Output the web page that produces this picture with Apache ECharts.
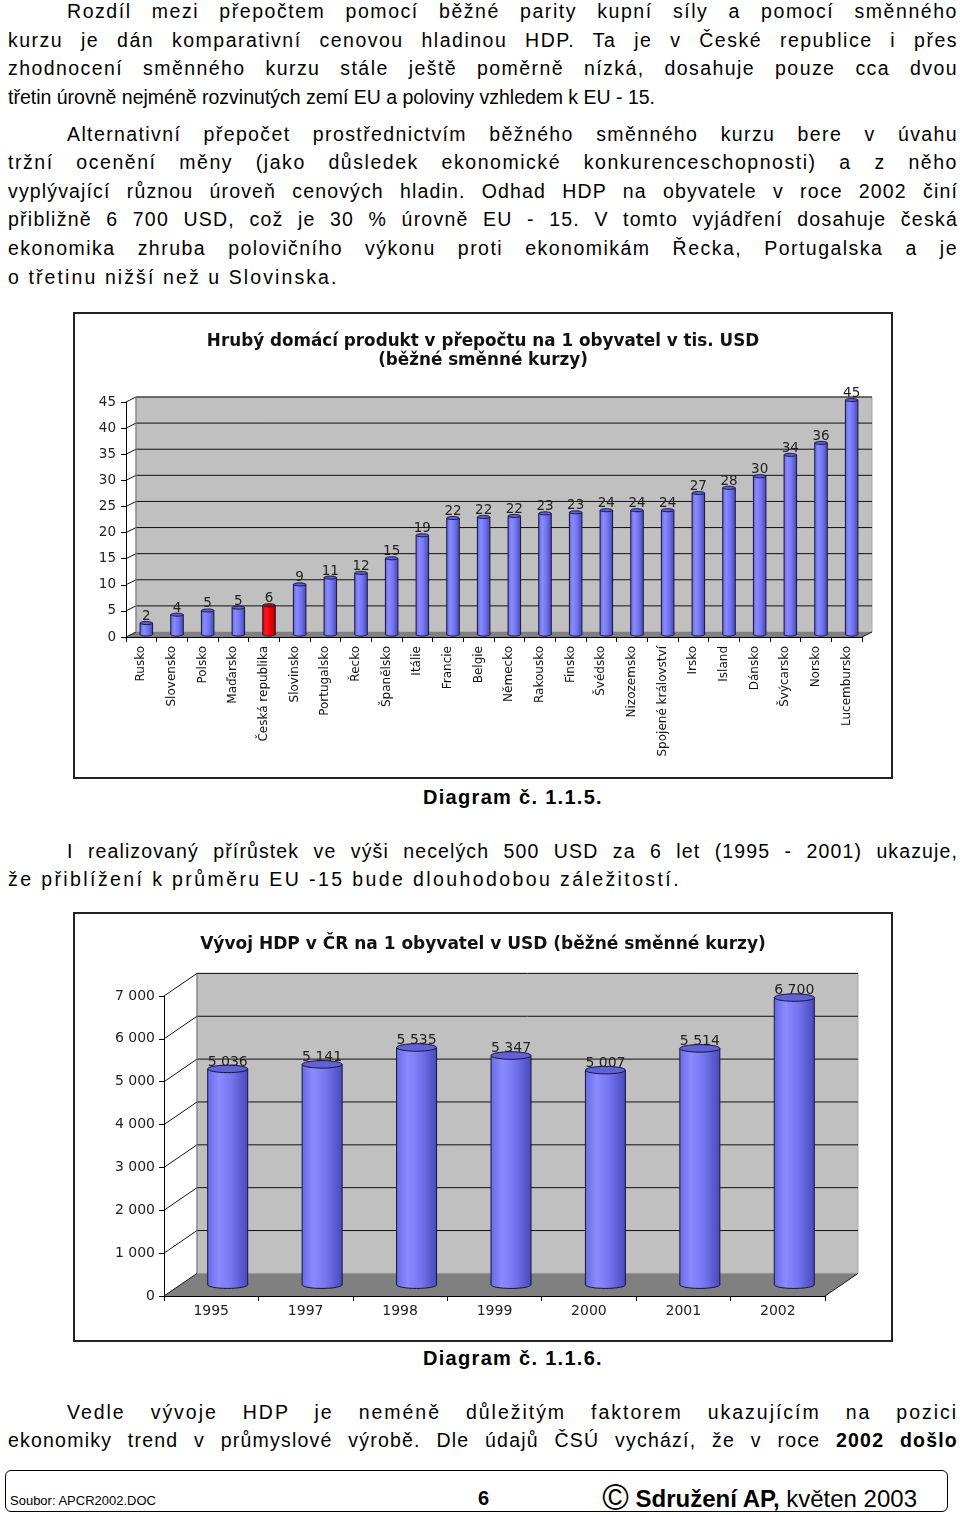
<!DOCTYPE html>
<html><head><meta charset="utf-8">
<script src="https://cdn.jsdelivr.net/npm/echarts@6/dist/echarts.min.js"></script>
<style>
html,body{margin:0;padding:0;background:#fff;}
body{width:960px;height:1515px;position:relative;overflow:hidden;font-family:"Liberation Sans",Arial,sans-serif;color:#000;}
.t{position:absolute;left:8px;width:950px;font-size:19.5px;line-height:1;white-space:nowrap;}
.j{text-align:justify;text-align-last:justify;white-space:normal;}
.i{text-indent:59px;}
.cap{position:absolute;left:313px;width:400px;text-align:center;font-weight:bold;font-size:20px;letter-spacing:1.3px;line-height:1;white-space:nowrap;}
.box{position:absolute;box-sizing:border-box;border:2px solid #222;pointer-events:none;}
.chart{position:absolute;}
.foot{position:absolute;left:5px;top:1470px;width:943px;height:42px;box-sizing:border-box;border:1.5px solid #000;border-radius:6px;}
.ft{position:absolute;line-height:1;white-space:nowrap;}
</style>
</head>
<body>
<div class="t j i" style="top:2px">Rozdíl mezi přepočtem pomocí běžné parity kupní síly a pomocí směnného</div>
<div class="t j" style="top:30.5px">kurzu je dán komparativní cenovou hladinou HDP. Ta je v České republice i přes</div>
<div class="t j" style="top:59px">zhodnocení směnného kurzu stále ještě poměrně nízká, dosahuje pouze cca dvou</div>
<div class="t" style="top:87.5px">třetin úrovně nejméně rozvinutých zemí EU a poloviny vzhledem k EU - 15.</div>

<div class="t j i" style="top:124.5px">Alternativní přepočet prostřednictvím běžného směnného kurzu bere v úvahu</div>
<div class="t j" style="top:153.1px">tržní ocenění měny (jako důsledek ekonomické konkurenceschopnosti) a z něho</div>
<div class="t j" style="top:181.7px">vyplývající různou úroveň cenových hladin. Odhad HDP na obyvatele v roce 2002 činí</div>
<div class="t j" style="top:210.3px">přibližně 6 700 USD, což je 30 % úrovně EU - 15. V tomto vyjádření dosahuje česká</div>
<div class="t j" style="top:238.9px">ekonomika zhruba polovičního výkonu proti ekonomikám Řecka, Portugalska a je</div>
<div class="t" style="top:267.5px;letter-spacing:2.1px">o třetinu nižší než u Slovinska.</div>

<div id="c1" class="chart" style="left:73px;top:312px;width:820px;height:467px"></div>
<div class="box" style="left:73px;top:312px;width:820px;height:467px"></div>

<div class="cap" style="top:786.5px">Diagram č. 1.1.5.</div>

<div class="t j i" style="top:841.5px">I realizovaný přírůstek ve výši necelých 500 USD za 6 let (1995 - 2001) ukazuje,</div>
<div class="t" style="top:870.1px;letter-spacing:2.4px">že přiblížení k průměru EU -15 bude dlouhodobou záležitostí.</div>

<div id="c2" class="chart" style="left:73px;top:912px;width:820px;height:430px"></div>
<div class="box" style="left:73px;top:912px;width:820px;height:430px"></div>

<div class="cap" style="top:1347.5px">Diagram č. 1.1.6.</div>

<div class="t j i" style="top:1402.5px">Vedle vývoje HDP je neméně důležitým faktorem ukazujícím na pozici</div>
<div class="t j" style="top:1431.1px">ekonomiky trend v průmyslové výrobě. Dle údajů ČSÚ vychází, že v roce <b>2002 došlo</b></div>

<div class="foot"></div>
<div class="ft" style="left:10px;top:1494px;font-size:13px">Soubor: APCR2002.DOC</div>
<div class="ft" style="left:478px;top:1488px;font-size:20px;font-weight:bold">6</div>
<div class="ft" style="right:43px;top:1480px;font-size:24px"><span style="font-size:36px;vertical-align:-3px">©</span> <b>Sdružení AP,</b> květen 2003</div>

<script>
// ---- Data: chart 1 (GDP per capita, thousand USD, current exchange rates)
const countries = ['Rusko','Slovensko','Polsko','Maďarsko','Česká republika','Slovinsko','Portugalsko','Řecko','Španělsko','Itálie','Francie','Belgie','Německo','Rakousko','Finsko','Švédsko','Nizozemsko','Spojené království','Irsko','Island','Dánsko','Švýcarsko','Norsko','Lucembursko'];
const gdpThousandUsd = [2.2,3.8,4.6,5.15,5.6,9.6,10.9,11.8,14.6,19.0,22.3,22.5,22.7,23.2,23.4,23.8,23.8,23.8,27.1,28.1,30.3,34.4,36.7,44.9];
const gdpValueLabels = ['2','4','5','5','6','9','11','12','15','19','22','22','22','23','23','24','24','24','27','28','30','34','36','45'];
const gdpAxisTicks = [0,5,10,15,20,25,30,35,40,45];
const highlightCountry = 'Česká republika';
const chart1Title = 'Hrubý domácí produkt v přepočtu na 1 obyvatel v tis. USD\n(běžné směnné kurzy)';

// ---- Data: chart 2 (Czech GDP per capita in USD)
const years = ['1995','1997','1998','1999','2000','2001','2002'];
const gdpUsd = [5036,5141,5535,5347,5007,5514,6700];
const usdAxisTicks = [0,1000,2000,3000,4000,5000,6000,7000];
const chart2Title = 'Vývoj HDP v ČR na 1 obyvatel v USD (běžné směnné kurzy)';

// Justified lines: spread part of the extra width over the letters (as the source does)
document.querySelectorAll('.j').forEach(el => {
  const indent = el.classList.contains('i') ? 59 : 0;
  const target = el.clientWidth - indent;
  el.style.textAlign = 'left';
  el.style.textAlignLast = 'left';
  el.style.whiteSpace = 'nowrap';
  const range = document.createRange();
  range.selectNodeContents(el);
  const natural = range.getBoundingClientRect().width;
  el.style.textAlign = '';
  el.style.textAlignLast = '';
  el.style.whiteSpace = '';
  const chars = el.textContent.length;
  const ls = Math.max(0, 0.45 * (target - natural) / chars);
  el.style.letterSpacing = ls.toFixed(2) + 'px';
});

const FONT = '"DejaVu Sans", Verdana, sans-serif';
const fmtSpace = v => String(v).replace(/\B(?=(\d{3})+(?!\d))/g, ' ');

const BLUE = {stops:[{offset:0,color:'#6a6ae4'},{offset:0.28,color:'#8b8bff'},{offset:0.6,color:'#7474ee'},{offset:1,color:'#4a4abc'}], cap:'#6262d6'};
const RED = {stops:[{offset:0,color:'#e00000'},{offset:0.28,color:'#ff1a1a'},{offset:0.6,color:'#f00000'},{offset:1,color:'#b80000'}], cap:'#d00000'};

function frameSeries(ticks, dx, dy) {
  return {
    type:'custom', z:1, silent:true, clip:false,
    data:[[0, ticks[0]]],
    renderItem(params, api) {
      const cs = params.coordSys;
      const x0 = cs.x, x1 = cs.x + cs.width;
      const yb = api.coord([0, ticks[0]])[1];
      const yt = api.coord([0, ticks[ticks.length-1]])[1];
      const ch = [];
      ch.push({type:'rect', shape:{x:x0+dx, y:yt+dy, width:cs.width, height:yb-yt}, style:{fill:'#c0c0c0', stroke:'#a8a8a8', lineWidth:1}});
      ch.push({type:'polygon', shape:{points:[[x0,yb],[x1,yb],[x1+dx,yb+dy],[x0+dx,yb+dy]]}, style:{fill:'#808080'}});
      ticks.forEach((v, k) => {
        const y = api.coord([0, v])[1];
        if (k > 0) ch.push({type:'line', shape:{x1:x0+dx, y1:y+dy, x2:x1+dx, y2:y+dy}, style:{stroke:'#111', lineWidth:1}});
        ch.push({type:'line', shape:{x1:x0, y1:y, x2:x0+dx, y2:y+dy}, style:{stroke:'#111', lineWidth:1}});
      });
      ch.push({type:'line', shape:{x1:x0+dx, y1:yt+dy, x2:x0+dx, y2:yb+dy}, style:{stroke:'#777', lineWidth:1}});
      ch.push({type:'line', shape:{x1:x1, y1:yb, x2:x1+dx, y2:yb+dy}, style:{stroke:'#111', lineWidth:1}});
      return {type:'group', children:ch};
    }
  };
}

function cylinderSeries(values, labels, o) {
  return {
    type:'custom', z:3, clip:false,
    data: values.map((v, i) => [i, v]),
    renderItem(params, api) {
      const i = api.value(0), v = api.value(1);
      const p = api.coord([i, v]), b = api.coord([i, 0]);
      const cx = p[0] + o.dx/2, yt = p[1] + o.dy/2, yb = b[1] + o.dy/2;
      const rx = o.width/2, ry = o.capH/2;
      const pal = (o.highlight === i) ? RED : BLUE;
      const grad = new echarts.graphic.LinearGradient(0, 0, 1, 0, pal.stops);
      return {type:'group', children:[
        {type:'ellipse', shape:{cx:cx, cy:yb, rx:rx, ry:ry}, style:{fill:grad, stroke:o.border, lineWidth:1}},
        {type:'rect', shape:{x:cx-rx, y:yt, width:o.width, height:yb-yt}, style:{fill:grad}},
        {type:'line', shape:{x1:cx-rx, y1:yt, x2:cx-rx, y2:yb}, style:{stroke:o.border, lineWidth:1}},
        {type:'line', shape:{x1:cx+rx, y1:yt, x2:cx+rx, y2:yb}, style:{stroke:o.border, lineWidth:1}},
        {type:'ellipse', shape:{cx:cx, cy:yt, rx:rx, ry:ry}, style:{fill:pal.cap, stroke:o.border, lineWidth:1}},
        {type:'text', x:cx, y:yt - ry + o.labelDy, style:{text:labels[params.dataIndex], align:'center', verticalAlign:'bottom', font:o.font, fill:'#222'}}
      ]};
    }
  };
}

// ---------- Chart 1
const c1 = echarts.init(document.getElementById('c1'), null, {renderer:'canvas'});
c1.setOption({
  animation:false,
  backgroundColor:'#fff',
  title:{text:chart1Title, left:'center', top:15, textStyle:{fontFamily:FONT, fontWeight:'bold', fontSize:16.8, lineHeight:19, color:'#111'}},
  grid:{left:53, top:90, width:736, height:235},
  xAxis:{type:'category', data:countries, boundaryGap:true, z:5,
    axisLine:{show:true, lineStyle:{color:'#000', width:1}},
    axisTick:{show:true, length:5, interval:0, lineStyle:{color:'#000'}},
    axisLabel:{rotate:90, interval:0, fontFamily:FONT, fontSize:12, color:'#111', margin:9},
    splitLine:{show:false}},
  yAxis:{type:'value', min:gdpAxisTicks[0], max:gdpAxisTicks[gdpAxisTicks.length-1], interval:5, z:5,
    axisLine:{show:true, lineStyle:{color:'#000', width:1}},
    axisTick:{show:true, length:5, lineStyle:{color:'#000'}},
    axisLabel:{fontFamily:FONT, fontSize:13.5, color:'#222', margin:10},
    splitLine:{show:false}},
  series:[
    frameSeries(gdpAxisTicks, 10, -5),
    cylinderSeries(gdpThousandUsd, gdpValueLabels, {dx:10, dy:-5, width:12.5, capH:3, border:'#14143c', highlight:countries.indexOf(highlightCountry), font:'13.5px ' + FONT, labelDy:2})
  ]
});

// ---------- Chart 2
const c2 = echarts.init(document.getElementById('c2'), null, {renderer:'canvas'});
c2.setOption({
  animation:false,
  backgroundColor:'#fff',
  title:{text:chart2Title, left:'center', top:19, textStyle:{fontFamily:FONT, fontWeight:'bold', fontSize:17, lineHeight:18, color:'#111'}},
  grid:{left:91, top:84, width:661, height:300},
  xAxis:{type:'category', data:years, boundaryGap:true, z:5,
    axisLine:{show:true, lineStyle:{color:'#000', width:1}},
    axisTick:{show:true, length:5, interval:0, lineStyle:{color:'#000'}},
    axisLabel:{interval:0, fontFamily:FONT, fontSize:14, color:'#222', margin:8},
    splitLine:{show:false}},
  yAxis:{type:'value', min:usdAxisTicks[0], max:usdAxisTicks[usdAxisTicks.length-1], interval:1000, z:5,
    axisLine:{show:true, lineStyle:{color:'#000', width:1}},
    axisTick:{show:true, length:5, lineStyle:{color:'#000'}},
    axisLabel:{fontFamily:FONT, fontSize:14, color:'#222', margin:9, formatter:fmtSpace},
    splitLine:{show:false}},
  series:[
    frameSeries(usdAxisTicks, 33, -22.6),
    cylinderSeries(gdpUsd, gdpUsd.map(fmtSpace), {dx:33, dy:-22.6, width:40, capH:7.5, border:'#14143c', highlight:-1, font:'14px ' + FONT, labelDy:4})
  ]
});
</script>
</body></html>
